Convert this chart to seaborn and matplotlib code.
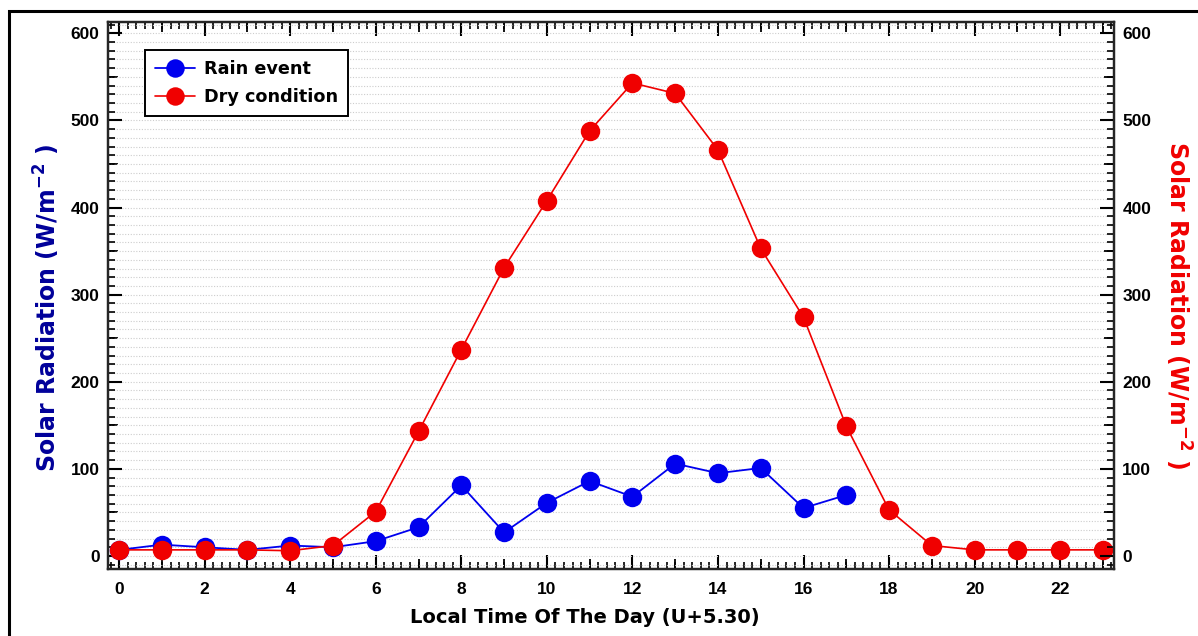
import numpy as np
import pandas as pd
import matplotlib
matplotlib.use("Agg")
import matplotlib.pyplot as plt
import seaborn as sns
from matplotlib.ticker import MultipleLocator, FixedLocator, NullFormatter
from matplotlib.patches import Rectangle

# Hourly solar radiation (W/m^-2)
hours_rain = list(range(0, 18))
rain_event = [7, 13, 10, 7, 12, 10, 17, 33, 81, 27, 61, 86, 68, 106, 95, 101, 55, 70]

hours_dry = list(range(0, 24))
dry_condition = [7, 7, 7, 7, 6, 12, 51, 143, 237, 331, 408, 488, 543, 531,
                 466, 353, 274, 149, 53, 12, 7, 7, 7, 7]

x_ticks = list(range(0, 24, 2))
y_ticks = list(range(0, 601, 100))

sns.set_style("white")
plt.rcParams["font.family"] = ["Liberation Sans", "DejaVu Sans"]
plt.rcParams["font.weight"] = "bold"
plt.rcParams["text.color"] = "black"
plt.rcParams["axes.labelcolor"] = "black"
plt.rcParams["xtick.color"] = "black"
plt.rcParams["ytick.color"] = "black"

TICK_FONT = {"family": "Liberation Sans", "weight": "bold", "size": 12.5}
LABEL_FAMILY = ["DejaVu Sans"]

fig = plt.figure(figsize=(11.98, 6.36), dpi=100)
ax = fig.add_axes([0.0902, 0.1053, 0.8397, 0.8601])

rain_df = pd.DataFrame({"hour": hours_rain, "value": rain_event})
dry_df = pd.DataFrame({"hour": hours_dry, "value": dry_condition})

sns.lineplot(data=rain_df, x="hour", y="value", ax=ax, color="#0000ee",
             marker="o", markersize=14, markeredgewidth=0, linewidth=1.3,
             label="Rain event", zorder=3)
sns.lineplot(data=dry_df, x="hour", y="value", ax=ax, color="#f00000",
             marker="o", markersize=14, markeredgewidth=0, linewidth=1.2,
             label="Dry condition", zorder=4)

ax.set_xlim(-0.26, 23.26)
ax.set_ylim(-15, 613)

# Dotted horizontal grid every 10 units
ax.yaxis.set_minor_locator(MultipleLocator(10))
ax.grid(False)
ax.grid(which="both", axis="y", linestyle=(0, (1, 1.5)), linewidth=0.8,
        color="#cdcdcd", zorder=0)
ax.set_axisbelow(True)

ax.set_xticks(x_ticks)
ax.set_yticks(y_ticks)
ax.xaxis.set_minor_locator(MultipleLocator(0.2))

for side in ["left", "right", "top", "bottom"]:
    ax.spines[side].set_visible(True)
    ax.spines[side].set_color("black")
    ax.spines[side].set_linewidth(1.6)

ax.tick_params(axis="x", which="major", direction="in", length=10, width=1.5,
               top=True, bottom=True, pad=9, colors="black")
ax.tick_params(axis="x", which="minor", direction="in", length=5, width=1.2,
               top=True, bottom=True)
ax.tick_params(axis="y", which="major", direction="in", length=10, width=1.5,
               left=True, right=False, pad=6, colors="black")
ax.tick_params(axis="y", which="minor", direction="in", length=5, width=1.2,
               left=True, right=False)

# Medium ticks at odd hours (bottom and top)
for loc in ["bottom", "top"]:
    sec = ax.secondary_xaxis(loc)
    sec.xaxis.set_major_locator(FixedLocator(list(range(1, 24, 2))))
    sec.xaxis.set_major_formatter(NullFormatter())
    sec.tick_params(direction="in", length=7, width=1.3)
    sec.spines[loc].set_visible(False)

# Right axis mirrors the left one
ax2 = ax.twinx()
ax2.set_ylim(ax.get_ylim())
ax2.set_yticks(y_ticks)
ax2.yaxis.set_minor_locator(MultipleLocator(10))
ax2.tick_params(axis="y", which="major", direction="in", length=10, width=1.5,
                pad=6, colors="black")
ax2.tick_params(axis="y", which="minor", direction="in", length=5, width=1.2)
ax2.grid(False)
for side in ["left", "right", "top", "bottom"]:
    ax2.spines[side].set_linewidth(1.6)

# Medium ticks at the 50s on both y spines
for a, loc in [(ax, "left"), (ax2, "right")]:
    sec = a.secondary_yaxis(loc)
    sec.yaxis.set_major_locator(FixedLocator(list(range(50, 601, 100))))
    sec.yaxis.set_major_formatter(NullFormatter())
    sec.tick_params(direction="in", length=7, width=1.3)
    sec.spines[loc].set_visible(False)

for lbl in ax.get_xticklabels() + ax.get_yticklabels() + ax2.get_yticklabels():
    lbl.set_fontproperties(TICK_FONT)
    lbl.set_color("black")

ax.set_xlabel("Local Time Of The Day (U+5.30)", fontsize=14, fontweight="bold",
              family=LABEL_FAMILY, color="black")
ax.xaxis.set_label_coords(0.474, -0.071)

ax.set_ylabel(r"Solar Radiation (W/m$^{\mathbf{-2}}$ )", fontsize=17,
              fontweight="bold", family=LABEL_FAMILY, color="#00009a")
ax.yaxis.set_label_coords(-0.046, 0.477)

ax2.set_ylabel(r"Solar Radiation (W/m$^{\mathbf{-2}}$ )", fontsize=17,
               fontweight="bold", family=LABEL_FAMILY, color="#f00000",
               rotation=-90, va="bottom")
ax2.yaxis.set_label_coords(1.049, 0.483)

leg = ax.legend(loc="upper left", bbox_to_anchor=(0.0368, 0.9488), frameon=True,
                fancybox=False, edgecolor="black", framealpha=1,
                prop={"family": LABEL_FAMILY, "weight": "bold", "size": 12.7},
                handlelength=2.3, borderpad=0.55, labelspacing=0.6,
                handletextpad=0.5, borderaxespad=0, markerscale=0.95)
leg.get_frame().set_linewidth(1.4)

# Outer frame around the figure
fig.patches.append(Rectangle((9 / 1198, -0.05), 1.2, 1 - 11 / 636 + 0.05,
                             transform=fig.transFigure, fill=False,
                             edgecolor="black", linewidth=2.2, zorder=0))

fig.savefig("out.png", dpi=100)
